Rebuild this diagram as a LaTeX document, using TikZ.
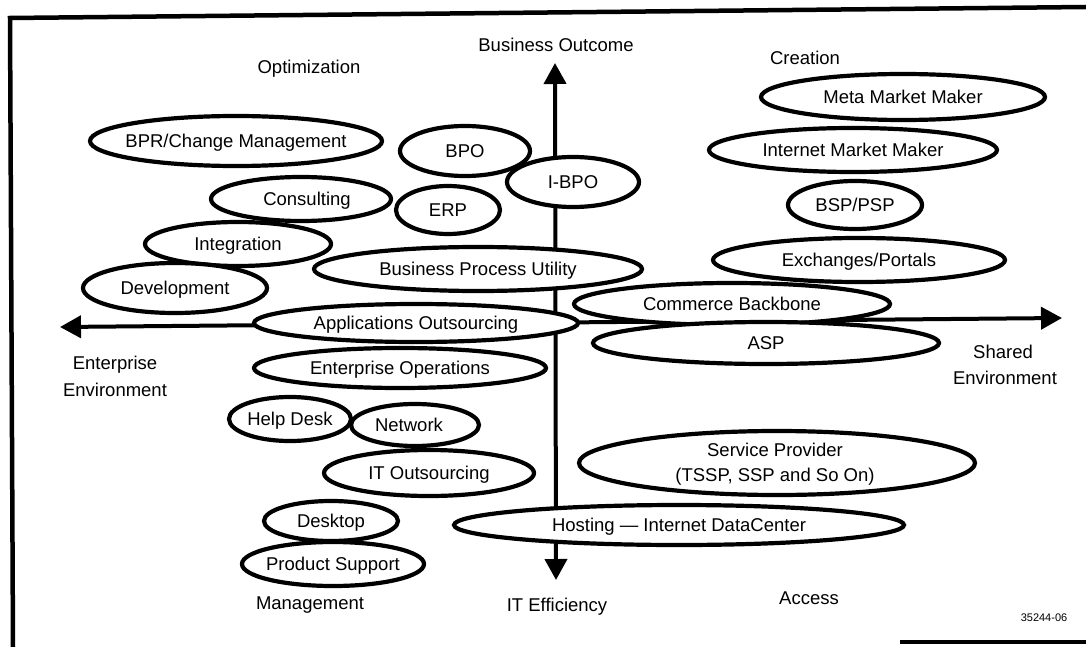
\documentclass[tikz,border=0pt]{standalone}
\usepackage{fontspec}
\setmainfont{Liberation Sans}
\usetikzlibrary{shapes.geometric,arrows.meta}
\newcommand\zw[1]{\makebox[0pt]{#1}}
\begin{document}
\begin{tikzpicture}[x=1pt,y=-1pt,
  oval/.style 2 args={ellipse, draw, fill=white, line width=4.2pt,
    minimum width=#1pt, minimum height=#2pt, inner sep=0pt,
    font=\fontsize{18.5}{25}\selectfont, text height=13pt, text depth=0pt},
  lab/.style={font=\fontsize{18.5}{26}\selectfont, inner sep=0pt,
    text height=13pt, text depth=0pt},
  axisline/.style={line width=4pt,
    {Triangle[length=21pt,width=22pt]}-{Triangle[length=21pt,width=22pt]}},
  framel/.style={line width=4.5pt}]
\useasboundingbox (0,0) rectangle (1086,647);
% frame
\coordinate (fBL) at (13,647);
\coordinate (fTL) at (10,18);
\coordinate (fTR) at (1086,7);
\coordinate (fB1) at (900,642);
\coordinate (fBR) at (1086,642);
\draw[framel] (fBL) -- (fTL) -- (fTR);
\draw[framel] (fB1) -- (fBR);
% axes
\coordinate (vtop) at (555,63);
\coordinate (vbot) at (556,580);
\coordinate (hl) at (60,327);
\coordinate (hr) at (1062,318);
\draw[axisline] (vbot) -- (vtop);
\draw[axisline] (hl) -- (hr);
% axis labels
\node[lab] (optim) at (309,67) {Optimization};
\node[lab] (bout) at (556,45) {Business Outcome};
\node[lab] (creat) at (805,58) {Creation};
\node[lab] (ent1) at (115,363) {Enterprise};
\node[lab] (ent2) at (115,390) {Environment};
\node[lab] (sh1) at (1003,352) {Shared};
\node[lab] (sh2) at (1005,378) {Environment};
\node[lab] (mgmt) at (310,603) {Management};
\node[lab] (iteff) at (557,605) {IT Efficiency};
\node[lab] (acc) at (809,598) {Access};
\node[font=\fontsize{11}{12}\selectfont, inner sep=0pt] (code) at (1044,618) {35244-06};
% ellipses
\node[oval={292}{50}] (bpr) at (236,141) {\zw{BPR/Change Management}};
\node[oval={130}{50}] (bpo) at (465,151) {\zw{BPO}};
\node[oval={132}{50}] (ibpo) at (573,182) {\zw{I-BPO}};
\node[oval={180}{44}] (cons) at (301,199) {\zw{\hspace{12pt}Consulting}};
\node[oval={104}{48}] (erp) at (448,210) {\zw{ERP}};
\node[oval={186}{44}] (integ) at (238,244) {\zw{Integration}};
\node[oval={184}{50}] (devel) at (175,288) {\zw{Development}};
\node[oval={328}{44}] (bpu) at (478,269) {\zw{Business Process Utility}};
\node[oval={284}{46}] (meta) at (903,97) {\zw{Meta Market Maker}};
\node[oval={288}{44}] (imm) at (853,150) {\zw{Internet Market Maker}};
\node[oval={134}{48}] (bsp) at (855,205) {\zw{BSP/PSP}};
\node[oval={292}{44}] (exch) at (859,260) {\zw{Exchanges/Portals}};
\node[oval={316}{42}] (cbb) at (732,304) {\zw{Commerce Backbone}};
\node[oval={346}{42}] (asp) at (766,343) {\zw{ASP}};
\node[oval={324}{38}] (appo) at (416,323) {\zw{Applications Outsourcing}};
\node[oval={292}{40}] (entop) at (400,368) {\zw{Enterprise Operations}};
\node[oval={128}{42}] (netw) at (415,425) {\zw{Network\hspace{12pt}}};
\node[oval={122}{44}] (help) at (290,419) {\zw{Help Desk}};
\node[oval={210}{46}] (itout) at (429,473) {\zw{IT Outsourcing}};
\node[oval={134}{40}] (desk) at (331,521) {\zw{Desktop}};
\node[oval={182}{44}] (prod) at (333,564) {\zw{Product Support}};
\node[oval={396}{64}] (sp) at (777,463) {};
\node[lab] (spt1) at (775,450) {Service Provider};
\node[lab] (spt2) at (775,475) {(TSSP, SSP and So On)};
\node[oval={450}{40}] (host) at (679,525) {\zw{Hosting --- Internet DataCenter}};
\end{tikzpicture}
\end{document}
